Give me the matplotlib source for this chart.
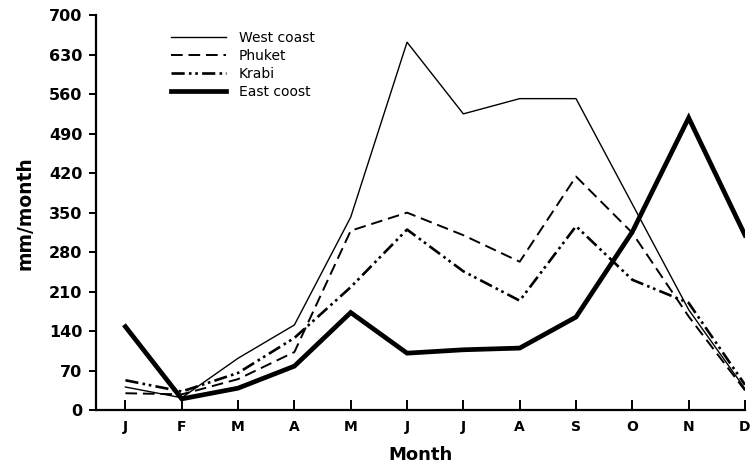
import numpy as np
import matplotlib
matplotlib.use("Agg")
import matplotlib.pyplot as plt

# ==============================
# Data (mm/month)
# ==============================
months = ["J", "F", "M", "A", "M", "J", "J", "A", "S", "O", "N", "D"]
west_coast = [41, 22, 92, 151, 342, 652, 525, 552, 552, 365, 178, 38]
phuket = [30, 28, 55, 103, 318, 350, 310, 263, 414, 314, 166, 35]
krabi = [53, 33, 66, 128, 218, 320, 246, 194, 326, 231, 190, 45]
east_coast = [148, 20, 39, 78, 173, 101, 107, 110, 165, 316, 518, 310]
y_ticks = [0, 70, 140, 210, 280, 350, 420, 490, 560, 630, 700]

x = np.arange(len(months))

fig = plt.figure(figsize=(7.51, 4.72), dpi=100)
ax = fig.add_axes([0.128, 0.131, 0.864, 0.837])

ax.plot(x, west_coast, color="black", lw=1.0, label="West coast")
ax.plot(x, phuket, color="black", lw=1.4, dashes=(6, 3), label="Phuket")
ax.plot(x, krabi, color="black", lw=1.9, dashes=(5, 1.6, 1, 1.4, 1, 1.6), label="Krabi")
ax.plot(x, east_coast, color="black", lw=3.4, solid_joinstyle="miter", label="East coost")

ax.set_xlim(-0.52, 11)
ax.set_ylim(0, 700)
ax.set_xticks(x)
ax.set_xticklabels(months)
ax.set_yticks(y_ticks)

for side in ["top", "right"]:
    ax.spines[side].set_visible(False)
ax.spines["left"].set_linewidth(1.6)
ax.spines["bottom"].set_linewidth(1.6)

ax.tick_params(axis="x", direction="in", length=7, width=1.4, pad=7, labelsize=10)
ax.tick_params(axis="y", direction="out", length=5, width=1.4, pad=5, labelsize=11.5)
for lab in ax.get_xticklabels() + ax.get_yticklabels():
    lab.set_fontweight("bold")

ax.set_xlabel("Month", fontsize=13, fontweight="bold", labelpad=9)
ax.set_ylabel("mm/month", fontsize=13.5, fontweight="bold", labelpad=10)

leg = ax.legend(loc="upper left", bbox_to_anchor=(0.1, 0.985), frameon=False,
                fontsize=10, handlelength=4.0, handletextpad=0.9,
                labelspacing=0.3, borderaxespad=0.3)

fig.savefig("out.png", dpi=100)
